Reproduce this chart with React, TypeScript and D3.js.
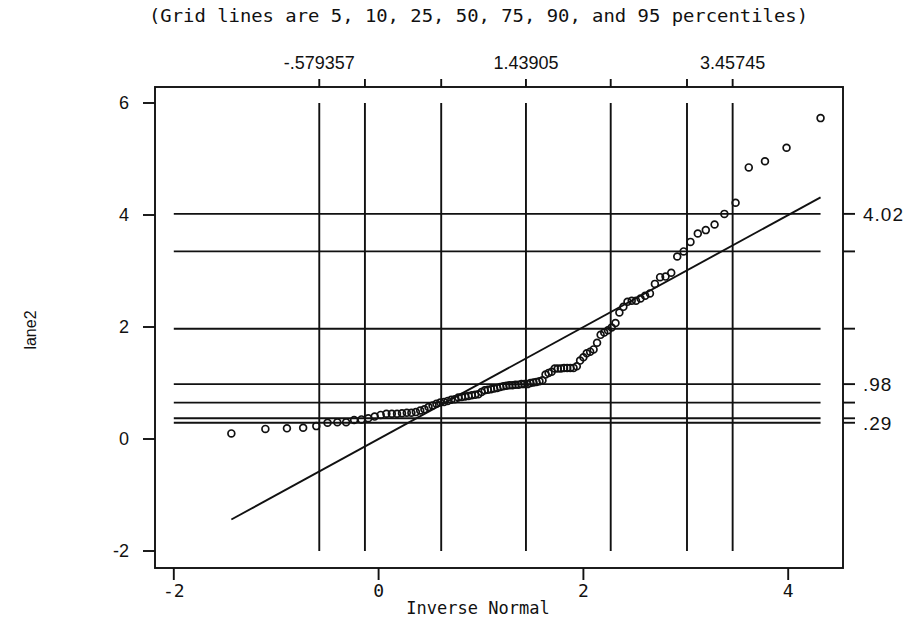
import React from "react";
import * as d3 from "d3";

const lane2: number[] = [
  0.10, 0.18, 0.19, 0.20, 0.23, 0.29, 0.30, 0.30, 0.34, 0.35,
  0.37, 0.40, 0.43, 0.45, 0.45, 0.45, 0.46, 0.47, 0.47, 0.48,
  0.51, 0.53, 0.57, 0.60, 0.63, 0.65, 0.66, 0.68, 0.70, 0.71,
  0.74, 0.75, 0.76, 0.77, 0.78, 0.79, 0.80, 0.84, 0.87, 0.88,
  0.89, 0.90, 0.91, 0.93, 0.94, 0.95, 0.96, 0.96, 0.97, 0.97,
  0.98, 0.98, 0.98, 1.00, 1.01, 1.02, 1.03, 1.05, 1.15, 1.18,
  1.20, 1.26, 1.26, 1.26, 1.27, 1.27, 1.27, 1.27, 1.30, 1.40,
  1.46, 1.53, 1.56, 1.60, 1.72, 1.86, 1.90, 1.94, 1.99, 2.07,
  2.26, 2.36, 2.45, 2.47, 2.47, 2.51, 2.56, 2.60, 2.77, 2.89,
  2.90, 2.97, 3.26, 3.35, 3.52, 3.67, 3.73, 3.83, 4.02, 4.22,
  4.85, 4.96, 5.20, 5.73,
];

const dataMean = 1.43905;
const dataSd = 1.22707;

const titleText = "(Grid lines are 5, 10, 25, 50, 75, 90, and 95 percentiles)";
const xTitle = "Inverse Normal";
const yTitle = "lane2";

const xTicks = [-2, 0, 2, 4];
const yTicks = [-2, 0, 2, 4, 6];

// percentiles 5,10,25,50,75,90,95 of the normal (vertical) and of the data (horizontal)
const vGrid = [-0.579357, -0.13356, 0.61139, 1.43905, 2.26671, 3.01166, 3.45745];
const topLabels = ["-.579357", "", "", "1.43905", "", "", "3.45745"];
const hGrid = [0.29, 0.37, 0.65, 0.98, 1.97, 3.35, 4.02];
const rightLabels = [".29", "", "", ".98", "", "", "4.02"];

// inverse standard normal CDF (Acklam)
function invNorm(p: number): number {
  const a = [-39.69683028665376, 220.9460984245205, -275.9285104469687, 138.357751867269, -30.66479806614716, 2.506628277459239];
  const b = [-54.47609879822406, 161.5858368580409, -155.6989798598866, 66.80131188771972, -13.28068155288572];
  const c = [-0.007784894002430293, -0.3223964580411365, -2.400758277161838, -2.549732539343734, 4.374664141464968, 2.938163982698783];
  const d = [0.007784695709041462, 0.3224671290700398, 2.445134137142996, 3.754408661907416];
  const pl = 0.02425;
  if (p < pl) {
    const q = Math.sqrt(-2 * Math.log(p));
    return (((((c[0] * q + c[1]) * q + c[2]) * q + c[3]) * q + c[4]) * q + c[5]) /
      ((((d[0] * q + d[1]) * q + d[2]) * q + d[3]) * q + 1);
  }
  if (p > 1 - pl) {
    const q = Math.sqrt(-2 * Math.log(1 - p));
    return -(((((c[0] * q + c[1]) * q + c[2]) * q + c[3]) * q + c[4]) * q + c[5]) /
      ((((d[0] * q + d[1]) * q + d[2]) * q + d[3]) * q + 1);
  }
  const q = p - 0.5;
  const r = q * q;
  return (((((a[0] * r + a[1]) * r + a[2]) * r + a[3]) * r + a[4]) * r + a[5]) * q /
    (((((b[0] * r + b[1]) * r + b[2]) * r + b[3]) * r + b[4]) * r + 1);
}

export default function App() {
  const W = 912, H = 623;
  const frame = { left: 155, right: 843, top: 87, bottom: 568 };
  const x = d3.scaleLinear().domain([-2, 4]).range([173.8, 788.2]);
  const y = d3.scaleLinear().domain([-2, 6]).range([551, 103]);

  const n = lane2.length;
  const sorted = [...lane2].sort(d3.ascending);
  const pts = sorted.map((v, i) => ({ q: dataMean + dataSd * invNorm((i + 1) / (n + 1)), v }));
  const qMin = pts[0].q;
  const qMax = pts[n - 1].q;

  const fitLine = d3.line<[number, number]>().x((d) => x(d[0])).y((d) => y(d[1]))([
    [qMin, qMin],
    [qMax, qMax],
  ]);

  const ink = "#111";
  const sans = "'Liberation Sans', Arial, sans-serif";
  const mono = "'DejaVu Sans Mono', monospace";
  const sw = 1.9;

  return (
    <svg width={W} height={H} style={{ position: "absolute", left: 0, top: 0, background: "#fff" }}>
      <rect x={0} y={0} width={W} height={H} fill="#fff" />
      {/* title */}
      <text x={149} y={22} fontFamily={mono} fontSize={18} fill={ink} textLength={659} lengthAdjust="spacingAndGlyphs">
        {titleText}
      </text>

      {/* frame */}
      <rect x={frame.left} y={frame.top} width={frame.right - frame.left} height={frame.bottom - frame.top}
        fill="none" stroke={ink} strokeWidth={sw} />

      {/* vertical grid lines */}
      {vGrid.map((v, i) => (
        <g key={"v" + i}>
          <line x1={x(v)} x2={x(v)} y1={y(-2)} y2={y(6)} stroke={ink} strokeWidth={sw} />
          <line x1={x(v)} x2={x(v)} y1={frame.top} y2={frame.top - 8} stroke={ink} strokeWidth={sw} />
          {topLabels[i] && (
            <text x={x(v)} y={69} textAnchor="middle" fontFamily={sans} fontSize={18} fill={ink}>
              {topLabels[i]}
            </text>
          )}
        </g>
      ))}

      {/* horizontal grid lines */}
      {hGrid.map((v, i) => (
        <g key={"h" + i}>
          <line x1={x(-2)} x2={x(qMax)} y1={y(v)} y2={y(v)} stroke={ink} strokeWidth={sw} />
          <line x1={frame.right} x2={frame.right + 12} y1={y(v)} y2={y(v)} stroke={ink} strokeWidth={sw} />
          {rightLabels[i] && (
            <text x={863} y={y(v) + 7} fontFamily={sans} fontSize={19} fill={ink} letterSpacing={1}>
              {rightLabels[i]}
            </text>
          )}
        </g>
      ))}

      {/* fitted line */}
      <path d={fitLine || ""} fill="none" stroke={ink} strokeWidth={sw} />

      {/* points */}
      {pts.map((p, i) => (
        <circle key={"p" + i} cx={x(p.q)} cy={y(p.v)} r={3.4} fill="none" stroke={ink} strokeWidth={1.7} />
      ))}

      {/* left axis */}
      {yTicks.map((t) => (
        <g key={"yt" + t}>
          <line x1={frame.left} x2={frame.left - 12} y1={y(t)} y2={y(t)} stroke={ink} strokeWidth={sw} />
          <text x={129} y={y(t) + 6} textAnchor="end" fontFamily={sans} fontSize={18} fill={ink}>
            {t < 0 ? "-" + Math.abs(t) : String(t)}
          </text>
        </g>
      ))}
      <text transform={`translate(36,${330}) rotate(-90)`} textAnchor="middle" fontFamily={sans} fontSize={16} fill={ink}>
        {yTitle}
      </text>

      {/* bottom axis */}
      {xTicks.map((t) => (
        <g key={"xt" + t}>
          <line x1={x(t)} x2={x(t)} y1={frame.bottom} y2={frame.bottom + 12} stroke={ink} strokeWidth={sw} />
          <text x={x(t)} y={597} textAnchor="middle" fontFamily={mono} fontSize={18} fill={ink}>
            {t < 0 ? "-" + Math.abs(t) : String(t)}
          </text>
        </g>
      ))}
      <text x={478} y={614} textAnchor="middle" fontFamily={mono} fontSize={17} fill={ink}>
        {xTitle}
      </text>
    </svg>
  );
}
